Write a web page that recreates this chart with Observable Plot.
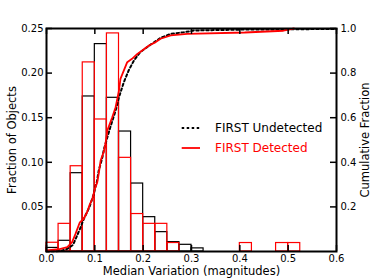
<!DOCTYPE html>
<html><head><meta charset="utf-8">
<script src="https://cdn.jsdelivr.net/npm/d3@7"></script>
<script src="https://cdn.jsdelivr.net/npm/@observablehq/plot@0.6"></script>
<style>
body{margin:0;background:#fff;}
#wrap{position:relative;width:374px;height:280px;font-family:"DejaVu Sans",sans-serif;}
.leg{position:absolute;left:181px;height:16px;font-size:12px;display:flex;align-items:center;white-space:nowrap;}
.leg svg{display:block;}
</style></head><body><div id="wrap"></div>
<script>
// Histogram bins (lower edges) and fractions of objects
const binLo = [0,0.025,0.05,0.075,0.1,0.125,0.15,0.175,0.2,0.225,0.25,0.275,0.3,0.325,0.35,0.375,0.4,0.425,0.45,0.475,0.5];
const binWidth = 0.025;
const undetected = [0.004,0.012,0.0878,0.1738,0.2325,0.1723,0.1345,0.0762,0.0385,0.0217,0.0105,0.0075,0.0035,0,0,0,0,0,0,0,0];
const detected   = [0.0098,0.031,0.0956,0.212,0.148,0.2445,0.105,0.042,0.031,0.031,0.0095,0,0,0,0,0,0.0095,0,0,0.0095,0.0095];

// Cumulative fractions (right axis)
const undetCumX = [0.0,0.029,0.043,0.055,0.060,0.069,0.077,0.089,0.098,0.101,0.104,0.108,0.115,0.119,0.122,0.132,0.143,0.150,0.160,0.170,0.181,0.194,0.215,0.236,0.257,0.284,0.305,0.4,0.6];
const undetCumY = [0.0,0.002,0.012,0.03,0.055,0.1,0.145,0.2,0.259,0.288,0.31,0.363,0.416,0.46,0.483,0.557,0.632,0.692,0.759,0.812,0.857,0.894,0.927,0.958,0.976,0.983,0.991,0.995,0.998];
const detCumX = [0.0,0.025,0.043,0.053,0.060,0.069,0.077,0.084,0.090,0.095,0.100,0.105,0.108,0.112,0.119,0.122,0.126,0.136,0.143,0.150,0.153,0.167,0.177,0.188,0.198,0.212,0.226,0.236,0.257,0.291,0.41,0.49,0.512];
const detCumY = [0.005,0.01,0.02,0.042,0.079,0.131,0.147,0.176,0.214,0.236,0.281,0.31,0.348,0.408,0.45,0.483,0.543,0.602,0.647,0.722,0.774,0.849,0.864,0.886,0.901,0.924,0.939,0.954,0.969,0.976,0.982,0.99,1.0];

const xTicks = [0,0.1,0.2,0.3,0.4,0.5,0.6];
const yTicks = [0.05,0.10,0.15,0.20,0.25];
const cumTicks = [0.2,0.4,0.6,0.8,1.0];
const yMax = 0.25;

const undetBars = binLo.map((x0,i)=>({x1:x0,x2:x0+binWidth,y:undetected[i]})).filter(d=>d.y>0);
const detBars = binLo.map((x0,i)=>({x1:x0,x2:x0+binWidth,y:detected[i]})).filter(d=>d.y>0);
const undetCum = undetCumX.map((x,i)=>({x,f:undetCumY[i]}));
const detCum = detCumX.map((x,i)=>({x,f:detCumY[i]}));

const W=374,H=280,mL=46,mR=38,mT=28,mB=29;
const fw=W-mL-mR, fh=H-mT-mB, tl=6;

const chart = Plot.plot({
  width:W,height:H,marginLeft:mL,marginRight:mR,marginTop:mT,marginBottom:mB,
  style:{fontFamily:"DejaVu Sans",fontSize:"10px",color:"black",background:"white",overflow:"visible"},
  x:{domain:[0,0.6]},
  y:{domain:[0,yMax]},
  marks:[
    Plot.rectY(undetBars,{x1:"x1",x2:"x2",y1:0,y2:"y",fill:"none",stroke:"black",strokeWidth:1.2}),
    Plot.rectY(detBars,{x1:"x1",x2:"x2",y1:0,y2:"y",fill:"none",stroke:"#ff0000",strokeWidth:1.2}),
    Plot.line(undetCum,{x:"x",y:d=>d.f*yMax,stroke:"black",strokeWidth:2,strokeDasharray:"2.5,2.5"}),
    Plot.line(detCum,{x:"x",y:d=>d.f*yMax,stroke:"#ff0000",strokeWidth:1.8}),
    Plot.frame({stroke:"black",strokeWidth:2}),
    Plot.tickX(xTicks,{x:d=>d,insetTop:fh-tl,stroke:"black",strokeWidth:1.5}),
    Plot.tickX(xTicks,{x:d=>d,insetBottom:fh-tl,stroke:"black",strokeWidth:1.5}),
    Plot.tickY(yTicks,{y:d=>d,insetRight:fw-tl,stroke:"black",strokeWidth:1.5}),
    Plot.tickY(cumTicks,{y:d=>d*yMax,insetLeft:fw-tl,stroke:"black",strokeWidth:1.5}),
    Plot.axisX({ticks:xTicks,tickSize:0,tickPadding:3,tickFormat:d=>d.toFixed(1),label:null}),
    Plot.axisY({ticks:yTicks,anchor:"left",tickSize:0,tickPadding:3,tickFormat:d=>d.toFixed(2),label:null}),
    Plot.axisY({ticks:cumTicks.map(f=>f*yMax),anchor:"right",tickSize:0,tickPadding:4,tickFormat:d=>(d/yMax).toFixed(1),label:null}),
    Plot.text(["Median Variation (magnitudes)"],{frameAnchor:"bottom",textAnchor:"middle",dy:23,fontSize:11.5,fill:"black"}),
    Plot.text(["Fraction of Objects"],{frameAnchor:"left",textAnchor:"middle",dx:-34,rotate:-90,fontSize:11.5,fill:"black"}),
    Plot.text(["Cumulative Fraction"],{frameAnchor:"right",textAnchor:"middle",dx:29,rotate:-90,fontSize:11.5,fill:"black"})
  ]
});
const wrap = document.getElementById("wrap");
wrap.appendChild(chart);

const legendItems = [
  {label:"FIRST Undetected", color:"black", dash:"2.5,2.5", width:2, top:120.3},
  {label:"FIRST Detected", color:"#ff0000", dash:null, width:1.8, top:139.5}
];
for (const it of legendItems) {
  const row = document.createElement("div");
  row.className = "leg";
  row.style.top = it.top + "px";
  row.style.color = it.color;
  row.innerHTML = `<svg width="34" height="16"><line x1="0.7" x2="19" y1="8" y2="8" stroke="${it.color}" stroke-width="${it.width}" ${it.dash?`stroke-dasharray="${it.dash}"`:""}/></svg><span>${it.label}</span>`;
  wrap.appendChild(row);
}
</script></body></html>
